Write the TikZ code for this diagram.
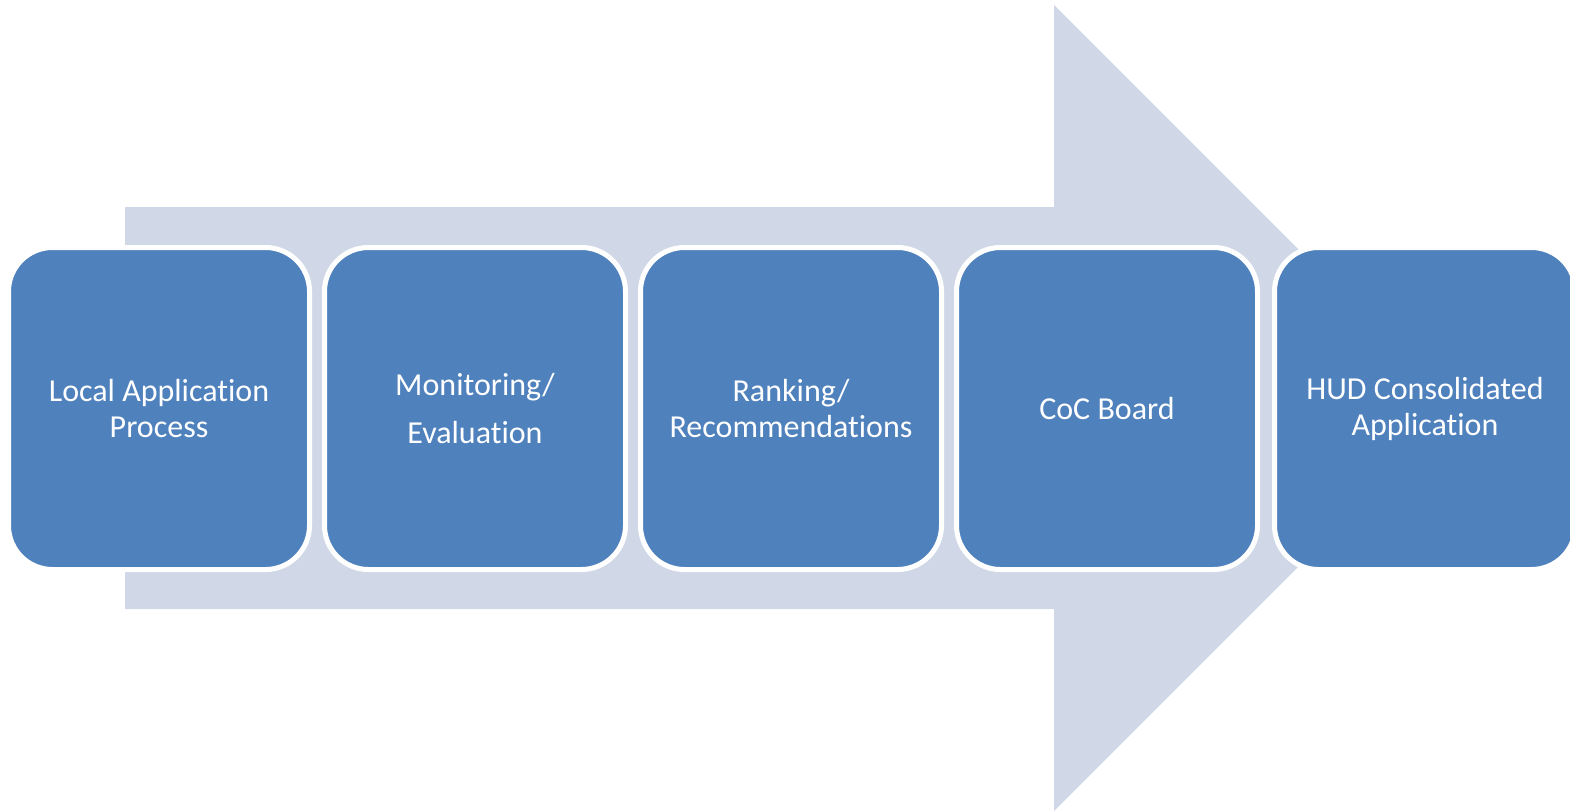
\documentclass[tikz,border=0pt]{standalone}
\usepackage{fontspec}
\setmainfont{Carlito}[Ligatures={NoCommon,NoContextual}]
\definecolor{arrowfill}{RGB}{208,216,232}
\definecolor{boxfill}{RGB}{79,129,189}
\tikzset{
  stagebox/.style={draw=white, line width=5pt, fill=boxfill, rounded corners=44pt},
  stagetext/.style={text=white, align=center, font=\fontsize{32}{36}\selectfont, inner sep=0pt}
}
\begin{document}
\begin{tikzpicture}[x=1pt,y=-1pt]
\useasboundingbox (0,0) rectangle (1570,811);
\clip (0,0) rectangle (1570,811);
\fill[arrowfill] (125,207) -- (1054,207) -- (1054,5) -- (1457,408) -- (1054,811) -- (1054,609) -- (125,609) -- cycle;
\foreach \i/\x in {1/11,2/327,3/643,4/959,5/1277}{
  \draw[stagebox] (\x-2.5,247.5) rectangle (\x+298.5,569.5);
  \coordinate (c\i) at (\x+148,408.5);
}
\node[stagetext] (t1) at (c1) {Local Application\\Process};
\node[stagetext] (t2) at (c2) {Monitoring/\\[12pt]Evaluation};
\node[stagetext] (t3) at (c3) {Ranking/\\Recommendations};
\node[stagetext] (t4) at (c4) {CoC Board};
\node[stagetext] (t5) at (c5) {HUD Consolidated\\Application};
\end{tikzpicture}
\end{document}
